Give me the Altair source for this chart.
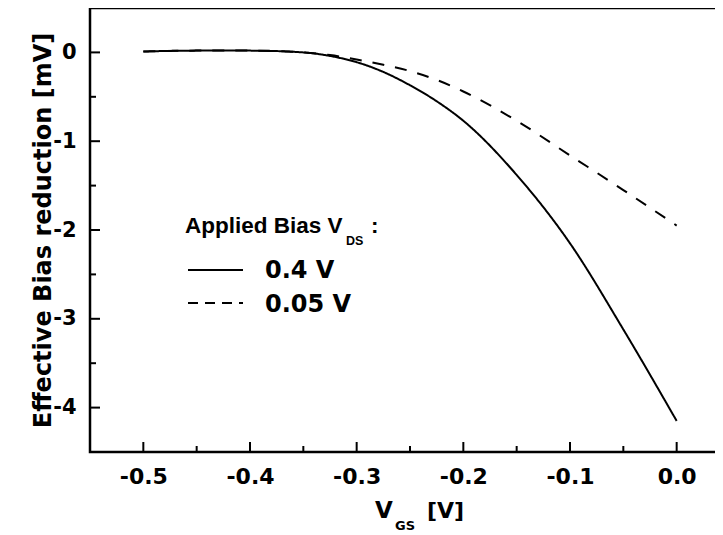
import altair as alt
import pandas as pd

# ---- data ----
vgs = [-0.5, -0.45, -0.4, -0.35, -0.325, -0.3, -0.275, -0.25, -0.225, -0.2, -0.15, -0.1, -0.05, 0.0]
bias_04 = [0.01, 0.02, 0.02, 0.0, -0.04, -0.11, -0.22, -0.37, -0.55, -0.77, -1.38, -2.15, -3.12, -4.15]
bias_005 = [0.01, 0.02, 0.02, 0.0, -0.03, -0.08, -0.14, -0.21, -0.31, -0.44, -0.77, -1.16, -1.55, -1.95]
series_names = ["0.4 V", "0.05 V"]

x_major = [-0.5, -0.4, -0.3, -0.2, -0.1, 0.0]
x_minor = [-0.45, -0.35, -0.25, -0.15, -0.05]
y_major = [-4, -3, -2, -1, 0]
y_minor = [-3.5, -2.5, -1.5, -0.5]

W, H = 640, 444
FONT = "DejaVu Sans"

df = pd.DataFrame(
    {"vgs": vgs * 2,
     "bias": bias_04 + bias_005,
     "series": [series_names[0]] * len(vgs) + [series_names[1]] * len(vgs)}
)

xscale = alt.Scale(domain=[-0.55, 0.05], nice=False, zero=False)
yscale = alt.Scale(domain=[-4.5, 0.5], nice=False, zero=False)
fix_minus = "replace(datum.label, '\u2212', '-')"

lines = alt.Chart(df).mark_line(color="black", strokeWidth=2, interpolate="monotone").encode(
    x=alt.X("vgs:Q", scale=xscale,
            axis=alt.Axis(values=x_major, format=".1f", labelExpr=fix_minus, title=None,
                          ticks=False, tickSize=0, domain=False, grid=False,
                          labelFont=FONT, labelFontWeight="bold", labelFontSize=22,
                          labelPadding=14, labelColor="black")),
    y=alt.Y("bias:Q", scale=yscale,
            axis=alt.Axis(values=y_major, format="d", labelExpr=fix_minus,
                          title="Effective Bias reduction [mV]",
                          ticks=False, tickSize=0, domain=False, grid=False,
                          labelFont=FONT, labelFontWeight="bold", labelFontSize=21,
                          labelPadding=14, labelColor="black",
                          titleFont=FONT, titleFontWeight="bold", titleFontSize=24,
                          titleColor="black", titleAngle=270, titleAlign="center",
                          titleBaseline="alphabetic", titleX=-40, titleY=222)),
    strokeDash=alt.StrokeDash("series:N", scale=alt.Scale(domain=series_names, range=[[1, 0], [12, 11]]),
                              legend=None),
    detail="series:N",
)

# inward tick marks
xmaj = alt.Chart(pd.DataFrame({"v": x_major})).mark_rule(color="black", strokeWidth=2).encode(
    x=alt.X("v:Q", scale=xscale), y=alt.value(H), y2=alt.value(H - 10))
xmin = alt.Chart(pd.DataFrame({"v": x_minor})).mark_rule(color="black", strokeWidth=2).encode(
    x=alt.X("v:Q", scale=xscale), y=alt.value(H), y2=alt.value(H - 6))
ymaj = alt.Chart(pd.DataFrame({"v": y_major})).mark_rule(color="black", strokeWidth=2).encode(
    y=alt.Y("v:Q", scale=yscale), x=alt.value(0), x2=alt.value(10))
ymin = alt.Chart(pd.DataFrame({"v": y_minor})).mark_rule(color="black", strokeWidth=2).encode(
    y=alt.Y("v:Q", scale=yscale), x=alt.value(0), x2=alt.value(6))

# legend (manual, for the subscript)
def txt(s, x, y, size, font=FONT):
    return alt.Chart(pd.DataFrame({"t": [s]})).mark_text(
        align="left", baseline="alphabetic", font=font, fontWeight="bold",
        fontSize=size, color="black").encode(text="t:N", x=alt.value(x), y=alt.value(y))

leg_title = txt("Applied Bias V", 95, 225, 22.5, "Liberation Sans")
leg_sub = txt("DS", 256, 237, 12.5, "Liberation Sans")
leg_colon = txt(":", 281, 225, 22.5, "Liberation Sans")
leg_solid = alt.Chart(pd.DataFrame({"a": [0]})).mark_rule(color="black", strokeWidth=2).encode(
    x=alt.value(98), x2=alt.value(153), y=alt.value(262))
leg_dash = alt.Chart(pd.DataFrame({"a": [0]})).mark_rule(color="black", strokeWidth=2, strokeDash=[10, 7]).encode(
    x=alt.value(98), x2=alt.value(153), y=alt.value(295))
leg_t1 = txt(series_names[0], 175, 270, 24)
leg_t2 = txt(series_names[1], 175, 304, 24)

# x axis title with subscript
xt_v = txt("V", 285, 510, 23)
xt_sub = txt("GS", 305, 522, 13)
xt_unit = txt("[V]", 337, 510, 22)

chart = alt.layer(
    lines, xmaj, xmin, ymaj, ymin,
    leg_title, leg_sub, leg_colon, leg_solid, leg_dash, leg_t1, leg_t2,
    xt_v, xt_sub, xt_unit,
).properties(
    width=W, height=H,
    autosize=alt.AutoSizeParams(type="none"),
    padding={"left": 82, "top": 0, "right": -15, "bottom": 83},
    background="white",
).configure_view(
    stroke="black", strokeWidth=2.5
)

chart.save("out.html", embed_options={"renderer": "svg", "actions": False})
